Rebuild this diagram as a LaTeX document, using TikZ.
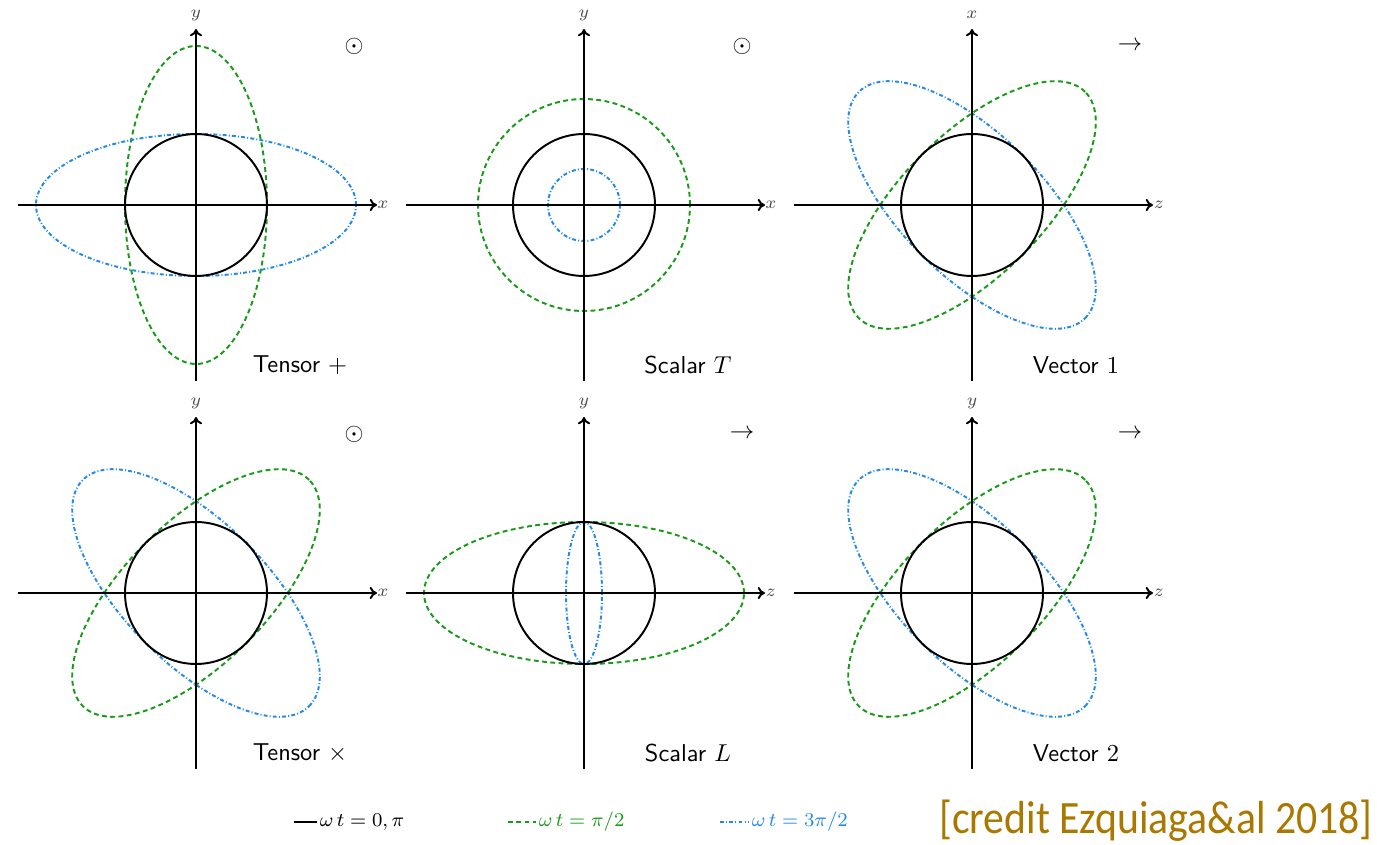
\documentclass[tikz,border=0pt]{standalone}
\usepackage{amsmath,amssymb}
\usepackage{fontspec}
\newfontfamily\creditfont{Carlito}
\usepackage{xcolor}
\usetikzlibrary{arrows.meta}
\definecolor{phgreen}{RGB}{25,155,25}
\definecolor{phblue}{RGB}{35,138,232}
\definecolor{creditgold}{RGB}{170,120,0}

\begin{document}
\begin{tikzpicture}[x=0.0144cm,y=0.0144cm,
  axis/.style={line width=0.8pt,-{To[length=3pt,width=5pt]}},
  axlabel/.style={font=\scriptsize,text=black!70,inner sep=1pt},
  ring/.style={line width=0.8pt},
  halfpi/.style={line width=0.8pt,phgreen,dash pattern=on 2pt off 1.4pt},
  threehalfpi/.style={line width=0.8pt,phblue,dash pattern=on 1.6pt off 0.9pt on 0.4pt off 0.9pt},
  title/.style={font=\sffamily,inner sep=1pt},
  legend/.style={font=\footnotesize,anchor=west,inner sep=1pt}]
\useasboundingbox (0,0) rectangle (1377,845);
\foreach \nm/\cx/\cy/\hl/\vl/\sym/\ttl/\ga/\gb/\gr/\ba/\bb/\br in {
  tp/196/640/x/y/\odot/{Tensor $+$}/71/159/0/160/71/0,
  st/584/640/x/y/\odot/{Scalar $T$}/106/106/0/36/36/0,
  vo/972/640/z/x/\rightarrow/{Vector $1$}/160/71/45/160/71/-45,
  tx/196/252/x/y/\odot/{Tensor $\times$}/160/71/45/160/71/-45,
  sl/584/252/z/y/\rightarrow/{Scalar $L$}/160/71/0/18/71/0,
  vt/972/252/z/y/\rightarrow/{Vector $2$}/160/71/45/160/71/-45}{
  \begin{scope}[shift={(\cx,\cy)}]
    \draw[halfpi,rotate=\gr] (0,0) ellipse [x radius=\ga, y radius=\gb];
    \draw[threehalfpi,rotate=\br] (0,0) ellipse [x radius=\ba, y radius=\bb];
    \draw[ring] (0,0) circle [radius=71];
    \draw[axis] (-178,0) -- (181,0);
    \draw[axis] (0,-176) -- (0,176);
    \node[axlabel] (\nm-h) at (187,0) {$\hl$};
    \node[axlabel] (\nm-v) at (0,190) {$\vl$};
    \node (\nm-s) at (158,159) {$\sym$};
    \node[title] (\nm-t) at (104,-160) {\ttl};
  \end{scope}
}
% legend
\coordinate (l0a) at (294,23); \coordinate (l0b) at (317,23);
\draw[ring] (l0a) -- (l0b);
\node[legend] (l0) at (l0b) {$\omega\, t=0,\pi$};
\coordinate (l1a) at (508,23); \coordinate (l1b) at (536,23);
\draw[halfpi] (l1a) -- (l1b);
\node[legend,text=phgreen] (l1) at (l1b) {$\omega\, t=\pi/2$};
\coordinate (l2a) at (720,23); \coordinate (l2b) at (749,23);
\draw[threehalfpi] (l2a) -- (l2b);
\node[legend,text=phblue] (l2) at (l2b) {$\omega\, t=3\pi/2$};
\node[text=creditgold,font=\creditfont\fontsize{19}{23}\selectfont,inner sep=0pt,xscale=0.9] (credit) at (1156,24) {[credit Ezquiaga\&al 2018]};
\end{tikzpicture}
\end{document}
